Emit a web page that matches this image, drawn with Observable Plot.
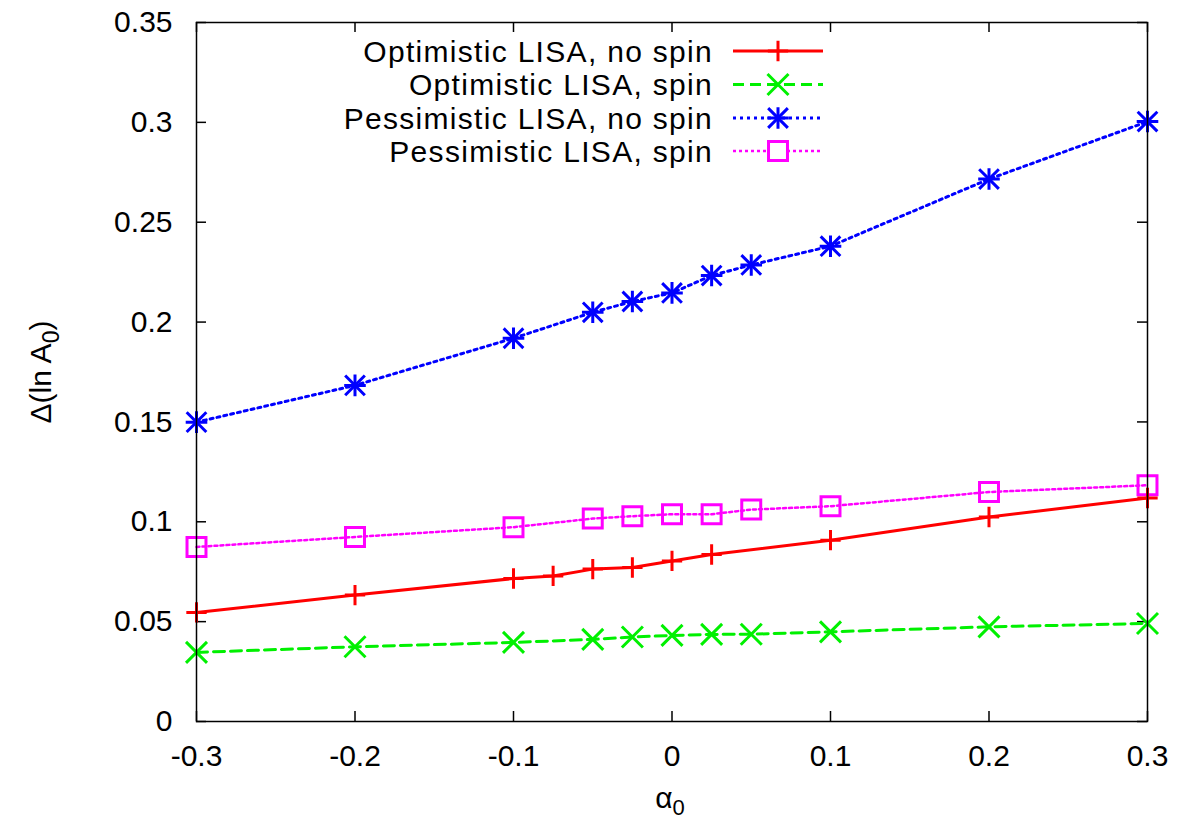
<!DOCTYPE html>
<html>
<head>
<meta charset="utf-8">
<script src="https://cdn.jsdelivr.net/npm/d3@7"></script>
<script src="https://cdn.jsdelivr.net/npm/@observablehq/plot@0.6"></script>
<style>
  html, body { margin: 0; padding: 0; background: #fff; }
  #chart { position: relative; width: 1201px; height: 823px; }
</style>
</head>
<body>
<div id="chart"></div>
<script>
// ---- data ----
const xOptNoSpin = [-0.3, -0.2, -0.1, -0.075, -0.05, -0.025, 0, 0.025, 0.1, 0.2, 0.3];
const yOptNoSpin = [0.0546, 0.0633, 0.0716, 0.0729, 0.0763, 0.0771, 0.0804, 0.0836, 0.0908, 0.1024, 0.1119];

const xOptSpin = [-0.3, -0.2, -0.1, -0.05, -0.025, 0, 0.025, 0.05, 0.1, 0.2, 0.3];
const yOptSpin = [0.0346, 0.0374, 0.0396, 0.0411, 0.0423, 0.0431, 0.0436, 0.0437, 0.0449, 0.0474, 0.0491];

const xPessNoSpin = [-0.3, -0.2, -0.1, -0.05, -0.025, 0, 0.025, 0.05, 0.1, 0.2, 0.3];
const yPessNoSpin = [0.1499, 0.1683, 0.1919, 0.2049, 0.2103, 0.2146, 0.2233, 0.2286, 0.2380, 0.2716, 0.3004];

const xPessSpin = [-0.3, -0.2, -0.1, -0.05, -0.025, 0, 0.025, 0.05, 0.1, 0.2, 0.3];
const yPessSpin = [0.0874, 0.0924, 0.0973, 0.1016, 0.1028, 0.1038, 0.1038, 0.1061, 0.1078, 0.1149, 0.1183];

const seriesNames = ["Optimistic LISA, no spin", "Optimistic LISA, spin", "Pessimistic LISA, no spin", "Pessimistic LISA, spin"];

const xTicks = [-0.3, -0.2, -0.1, 0, 0.1, 0.2, 0.3];
const xTickLabels = ["-0.3", "-0.2", "-0.1", "0", "0.1", "0.2", "0.3"];
const yTicks = [0, 0.05, 0.1, 0.15, 0.2, 0.25, 0.3, 0.35];
const yTickLabels = ["0", "0.05", "0.1", "0.15", "0.2", "0.25", "0.3", "0.35"];

// ---- build tables ----
const zip = (xs, ys) => xs.map((x, i) => ({x, y: ys[i]}));
const dOptNoSpin = zip(xOptNoSpin, yOptNoSpin);
const dOptSpin = zip(xOptSpin, yOptSpin);
const dPessNoSpin = zip(xPessNoSpin, yPessNoSpin);
const dPessSpin = zip(xPessSpin, yPessSpin);

const RED = "#ff0000", GREEN = "#00f000", BLUE = "#0000ff", MAGENTA = "#ff00ff";
const FONT = "'Liberation Sans', Arial, Helvetica, sans-serif";

const W = 1201, H = 823;
const mL = 196, mR = 54, mT = 22, mB = 102;
const pw = W - mL - mR, ph = H - mT - mB;
const tickLen = 10;

const plot = Plot.plot({
  width: W,
  height: H,
  marginLeft: mL,
  marginRight: mR,
  marginTop: mT,
  marginBottom: mB,
  style: {fontFamily: FONT, fontSize: "30px", color: "#000", background: "#fff"},
  x: {domain: [-0.3, 0.3]},
  y: {domain: [0, 0.35]},
  marks: [
    Plot.axisX(xTicks, {tickSize: 0, tickPadding: 23, tickFormat: d => xTickLabels[xTicks.indexOf(d)], label: null, fontSize: 30}),
    Plot.axisY(yTicks, {tickSize: 0, tickPadding: 24, tickFormat: d => yTickLabels[yTicks.indexOf(d)], label: null, fontSize: 30}),
    // inward ticks on all four sides (gnuplot style)
    Plot.tickY(yTicks, {insetRight: pw - tickLen, stroke: "#000", strokeWidth: 1.5}),
    Plot.tickY(yTicks, {insetLeft: pw - tickLen, stroke: "#000", strokeWidth: 1.5}),
    Plot.tickX(xTicks, {insetTop: ph - tickLen, stroke: "#000", strokeWidth: 1.5}),
    Plot.tickX(xTicks, {insetBottom: ph - tickLen, stroke: "#000", strokeWidth: 1.5}),
    // series
    Plot.line(dPessSpin, {x: "x", y: "y", stroke: MAGENTA, strokeWidth: 2.5, strokeDasharray: "3,3"}),
    Plot.dot(dPessSpin, {x: "x", y: "y", symbol: "square", r: 10.7, stroke: MAGENTA, strokeWidth: 3, fill: "none"}),
    Plot.line(dOptNoSpin, {x: "x", y: "y", stroke: RED, strokeWidth: 3}),
    Plot.dot(dOptNoSpin, {x: "x", y: "y", symbol: "plus", r: 6.6, stroke: RED, strokeWidth: 3}),
    Plot.line(dOptSpin, {x: "x", y: "y", stroke: GREEN, strokeWidth: 3, strokeDasharray: "11,6"}),
    Plot.dot(dOptSpin, {x: "x", y: "y", symbol: "times", r: 9.6, stroke: GREEN, strokeWidth: 3}),
    Plot.line(dPessNoSpin, {x: "x", y: "y", stroke: BLUE, strokeWidth: 3, strokeDasharray: "3,4"}),
    Plot.dot(dPessNoSpin, {x: "x", y: "y", symbol: "plus", r: 7.0, stroke: BLUE, strokeWidth: 3}),
    Plot.dot(dPessNoSpin, {x: "x", y: "y", symbol: "times", r: 9.0, stroke: BLUE, strokeWidth: 3}),
    Plot.frame({stroke: "#000", strokeWidth: 1.5})
  ]
});

document.getElementById("chart").appendChild(plot);

// ---- axis titles and legend (added to the same SVG) ----
const svg = d3.select(plot);

const xl = svg.append("text")
  .attr("x", 670)
  .attr("y", 808)
  .attr("text-anchor", "middle")
  .style("font-family", FONT)
  .style("font-size", "30px")
  .attr("fill", "#000");
xl.append("tspan").text("α");
xl.append("tspan").attr("dy", 7).style("font-size", "22px").text("0");

const yl = svg.append("text")
  .attr("transform", `translate(51,372) rotate(-90)`)
  .attr("text-anchor", "middle")
  .style("font-family", FONT)
  .style("font-size", "30px")
  .attr("fill", "#000");
yl.append("tspan").text("Δ(ln A");
yl.append("tspan").attr("dy", 8).style("font-size", "23px").text("0");
yl.append("tspan").attr("dy", -8).text(")");

const legendRows = [
  {name: seriesNames[0], color: RED, dash: null, width: 3, symbols: ["plus"]},
  {name: seriesNames[1], color: GREEN, dash: "11,6", width: 3, symbols: ["times"]},
  {name: seriesNames[2], color: BLUE, dash: "3,4", width: 3, symbols: ["plus", "times"]},
  {name: seriesNames[3], color: MAGENTA, dash: "3,3", width: 2.5, symbols: ["square"]}
];
const symSize = {plus: Math.PI * 6.6 * 6.6, times: Math.PI * 9.6 * 9.6, square: Math.PI * 10.7 * 10.7};
const symMap = {plus: d3.symbolPlus, times: d3.symbolTimes, square: d3.symbolSquare};
const rowY = [51, 84.5, 118, 151];
const lg = svg.append("g");
legendRows.forEach((row, i) => {
  const y = rowY[i];
  lg.append("text")
    .attr("x", 713).attr("y", y)
    .attr("dy", "0.35em")
    .attr("text-anchor", "end")
    .style("font-family", FONT)
    .style("font-size", "30px")
    .style("letter-spacing", "1.3px")
    .attr("fill", "#000")
    .text(row.name);
  const ln = lg.append("line")
    .attr("x1", 733).attr("x2", 823).attr("y1", y).attr("y2", y)
    .attr("stroke", row.color).attr("stroke-width", row.width);
  if (row.dash) ln.attr("stroke-dasharray", row.dash);
  row.symbols.forEach(s => {
    let size = symSize[s];
    if (i === 2) size = s === "plus" ? Math.PI * 49 : Math.PI * 81;
    lg.append("path")
      .attr("transform", `translate(778,${y})`)
      .attr("d", d3.symbol(symMap[s], size)())
      .attr("fill", s === "square" ? "#fff" : "none")
      .attr("stroke", row.color)
      .attr("stroke-width", 3);
  });
});
</script>
</body>
</html>
